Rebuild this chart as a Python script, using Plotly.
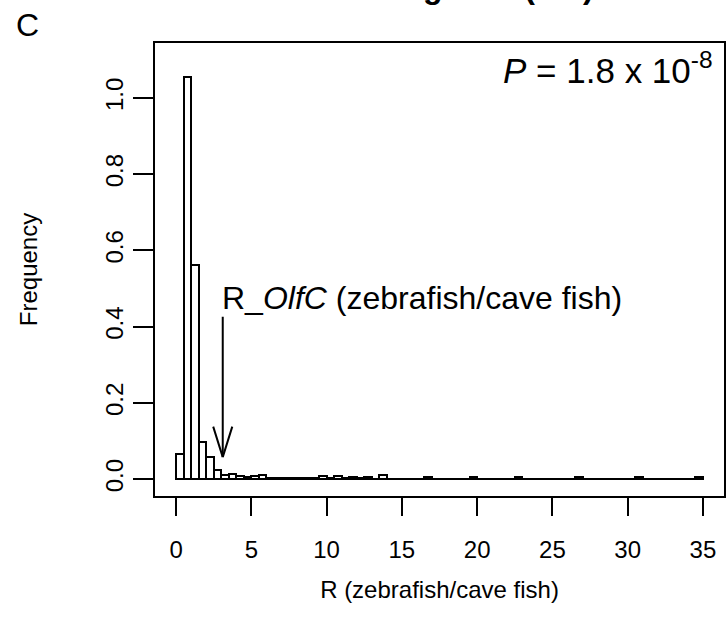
import plotly.graph_objects as go

# ---- data ----
bin_width = 0.5
bin_left = [i * 0.5 for i in range(70)]  # bins 0-0.5 ... 34.5-35
density = [0.066, 1.054, 0.562, 0.098, 0.059, 0.024, 0.011, 0.015, 0.008, 0.006,
           0.008, 0.011, 0.003, 0.002, 0.002, 0.002, 0.002, 0.003, 0.003, 0.008,
           0.003, 0.008, 0.003, 0.005, 0.003, 0.005, 0.0, 0.011, 0.0, 0.0,
           0.0, 0.0, 0.0, 0.005, 0.0, 0.0, 0.0, 0.0, 0.0, 0.005,
           0.0, 0.0, 0.0, 0.0, 0.0, 0.005, 0.0, 0.0, 0.0, 0.0,
           0.0, 0.0, 0.0, 0.005, 0.0, 0.0, 0.0, 0.0, 0.0, 0.0,
           0.0, 0.005, 0.0, 0.0, 0.0, 0.0, 0.0, 0.0, 0.0, 0.005]
x_ticks = [0, 5, 10, 15, 20, 25, 30, 35]
y_ticks = [0.0, 0.2, 0.4, 0.6, 0.8, 1.0]
olfc_R = 3.1
arrow_top, arrow_tip = 0.43, 0.058
label_y = 0.475

FONT = "Liberation Sans, Arial, sans-serif"
centers = [b + bin_width / 2 for b in bin_left]

fig = go.Figure()
fig.add_trace(go.Bar(
    x=centers, y=density, width=bin_width,
    marker=dict(color="white", line=dict(color="black", width=2)),
    showlegend=False, hoverinfo="skip",
))

fig.update_layout(
    width=726, height=624,
    margin=dict(l=155, r=2, t=43, b=128),
    paper_bgcolor="white", plot_bgcolor="white",
    bargap=0,
    font=dict(family=FONT, size=24, color="black"),
    xaxis=dict(
        range=[-1.4, 36.4], tickvals=x_ticks, ticks="outside", ticklen=18,
        tickwidth=2, tickcolor="black", showline=True, linewidth=2, linecolor="black",
        mirror=True, showgrid=False, zeroline=False, ticklabelstandoff=13,
        automargin=False,
        title=dict(text="R (zebrafish/cave fish)", standoff=19, font=dict(size=24)),
        tickfont=dict(size=24),
    ),
    yaxis=dict(
        range=[-0.044, 1.144], tickvals=y_ticks, tickformat=".1f", ticks="outside",
        ticklen=20, tickwidth=2, tickcolor="black", showline=True, linewidth=2,
        linecolor="black", mirror=True, showgrid=False, zeroline=False,
        tickangle=-90, ticklabelstandoff=0, automargin=False,
        title=dict(text="Frequency", standoff=57, font=dict(size=24)),
        tickfont=dict(size=24),
    ),
)

# arrow shaft pointing at R_OlfC
fig.add_annotation(
    x=olfc_R, y=arrow_tip, ax=olfc_R, ay=arrow_top, xref="x", yref="y",
    axref="x", ayref="y", showarrow=True, arrowhead=0,
    arrowwidth=2, arrowcolor="black", text="",
)
# open "V" arrow head (two wings, offsets in pixels from the tip)
for dx in (-10, 10):
    fig.add_annotation(
        x=olfc_R, y=arrow_tip, xref="x", yref="y", ax=dx, ay=-32,
        showarrow=True, arrowhead=0, arrowwidth=2, arrowcolor="black", text="",
    )
fig.add_annotation(
    x=olfc_R, y=label_y, xref="x", yref="y", xanchor="left", yanchor="middle",
    text="R_<i>OlfC</i> (zebrafish/cave fish)", showarrow=False,
    font=dict(size=32), xshift=-3,
)
fig.add_annotation(
    x=1, y=1, xref="paper", yref="paper", xanchor="right", yanchor="top",
    text="<i>P</i> = 1.8 x 10<sup>-8</sup>", showarrow=False,
    font=dict(size=35), xshift=-9, yshift=-1,
)
fig.add_annotation(
    x=0, y=1, xref="paper", yref="paper", xanchor="center", yanchor="middle",
    text="C", showarrow=False, font=dict(size=32), xshift=-128, yshift=18,
)
# panel title (only its lower edge is inside the picture)
fig.add_annotation(
    x=0.5, y=1, xref="paper", yref="paper", xanchor="center", yanchor="bottom",
    text="<b>Random genes (OR)</b>", showarrow=False, font=dict(size=32),
    yshift=36,
)

fig.write_html("out.html", config={"displayModeBar": False},
               post_script="document.body.style.margin='0';")
